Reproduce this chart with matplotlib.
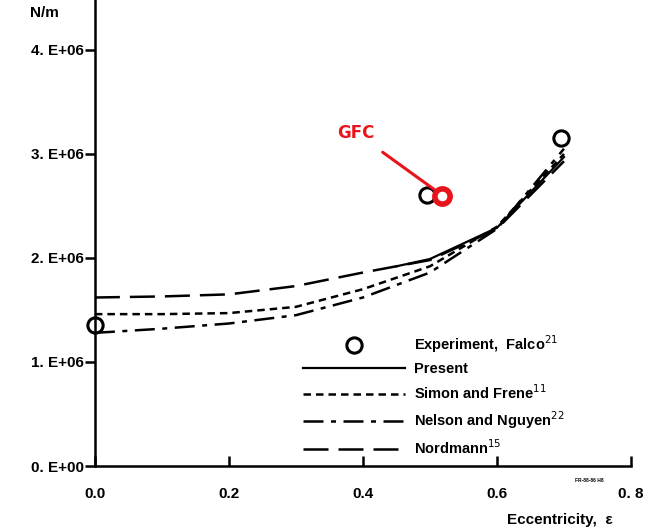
import matplotlib
matplotlib.use('Agg')
import matplotlib.pyplot as plt

plt.rcParams['font.family'] = ['Liberation Sans', 'DejaVu Sans']

# datos
ecc = [0.0, 0.1, 0.2, 0.3, 0.4, 0.5, 0.6, 0.7]
nordmann = [1.62e6, 1.63e6, 1.65e6, 1.73e6, 1.86e6, 1.98e6, 2.28e6, 2.93e6]
simon = [1.46e6, 1.46e6, 1.47e6, 1.53e6, 1.70e6, 1.92e6, 2.30e6, 3.00e6]
nelson = [1.28e6, 1.32e6, 1.37e6, 1.45e6, 1.62e6, 1.86e6, 2.28e6, 3.05e6]
present_ecc = [0.45, 0.5, 0.6, 0.7]
present = [1.92e6, 1.99e6, 2.29e6, 2.97e6]

exp_ecc = [0.0, 0.495, 0.695]
exp_val = [1.36e6, 2.61e6, 3.15e6]

gfc_ecc = [0.518]
gfc_val = [2.60e6]

yticks = [0, 1e6, 2e6, 3e6, 4e6]
ylabels = ['0. E+00', '1. E+06', '2. E+06', '3. E+06', '4. E+06']
xticks = [0.0, 0.2, 0.4, 0.6, 0.8]
xlabels = ['0.0', '0.2', '0.4', '0.6', '0. 8']

fig = plt.figure(figsize=(6.59, 5.31), dpi=100)
ax = fig.add_axes([0.144, 0.1224, 0.8135, 0.8776])

ax.plot(exp_ecc, exp_val, 'o', ms=11, mfc='none', mec='k', mew=2.2,
        clip_on=False, zorder=5, label='Experiment,  Falco$^{21}$')
ax.plot(present_ecc, present, '-', color='k', lw=1.6, label='Present')
ax.plot(ecc, simon, color='k', lw=1.8, dashes=(3, 2),
        label='Simon and Frene$^{11}$')
ax.plot(ecc, nelson, color='k', lw=1.8, dashes=(8, 3, 2, 3),
        label='Nelson and Nguyen$^{22}$')
ax.plot(ecc, nordmann, color='k', lw=1.8, dashes=(10, 4),
        label='Nordmann$^{15}$')

# punto GFC en rojo, encima del experimento
ax.plot(gfc_ecc, gfc_val, 'o', ms=11, mfc='none', mec='#e8141c', mew=4,
        zorder=6)
ax.annotate('GFC', xy=(gfc_ecc[0] - 0.012, gfc_val[0] + 0.06e6),
            xytext=(0.39, 3.2e6), color='#e8141c', fontsize=12,
            fontweight='bold', ha='center', va='center',
            family=['DejaVu Sans'], zorder=6,
            arrowprops=dict(arrowstyle='-', color='#e8141c', lw=2.2,
                            shrinkA=9, shrinkB=0))

ax.set_xlim(0, 0.8)
ax.set_ylim(0, 4.48e6)
ax.spines['top'].set_visible(False)
ax.spines['right'].set_visible(False)
ax.spines['left'].set_linewidth(1.8)
ax.spines['bottom'].set_linewidth(1.8)

ax.set_yticks(yticks)
ax.set_yticklabels(ylabels, fontsize=11, fontweight='bold')
ax.set_xticks(xticks)
ax.set_xticklabels(xlabels, fontsize=11, fontweight='bold')
ax.tick_params(axis='y', direction='out', length=7, width=1.8, pad=1)
ax.tick_params(axis='x', direction='in', length=7, width=1.8, pad=15)

fig.text(0.045, 0.975, 'N/m', fontsize=11, fontweight='bold', va='center')
fig.text(0.85, 0.02, 'Eccentricity,  ε', fontsize=11, fontweight='bold',
         ha='center', va='center')
fig.text(0.895, 0.092, 'FR-88-86 H8', fontsize=3.5, fontweight='bold',
         ha='center')

ax.legend(loc='upper left', bbox_to_anchor=(0.375, 0.30), frameon=False,
          handlelength=7.0, handletextpad=0.6, labelspacing=0.5,
          borderpad=0, prop={'size': 10.5, 'weight': 'bold'})

fig.savefig('out.png', dpi=100)
